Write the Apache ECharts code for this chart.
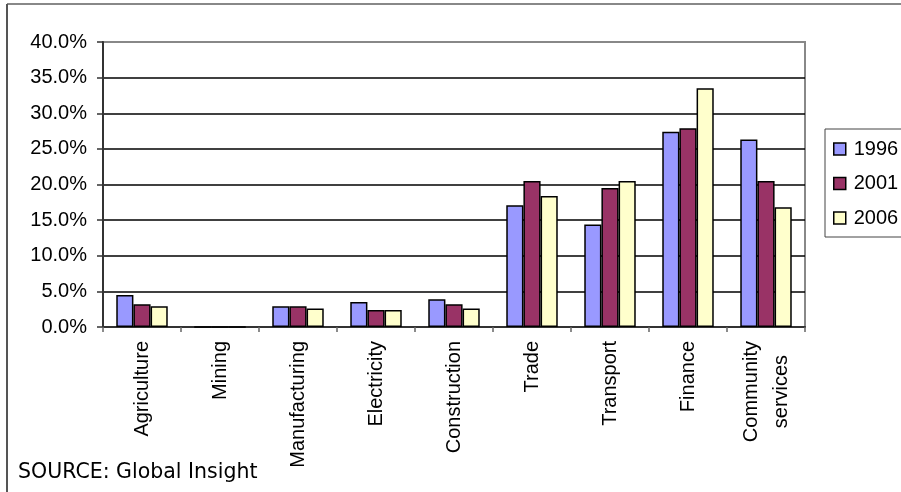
<!DOCTYPE html>
<html>
<head>
<meta charset="utf-8">
<script src="https://cdn.jsdelivr.net/npm/echarts@6/dist/echarts.min.js"></script>
<style>
  html, body { margin: 0; padding: 0; background: #fff; }
  #chart { width: 901px; height: 492px; }
</style>
</head>
<body>
<div id="chart"></div>
<script>
// Share of output by sector (%)
const sectors = ['Agriculture', 'Mining', 'Manufacturing', 'Electricity', 'Construction',
                 'Trade', 'Transport', 'Finance', 'Community\nservices'];
const years = ['1996', '2001', '2006'];
const share1996 = [4.5, 0.0, 2.9, 3.5, 3.9, 17.1, 14.4, 27.4, 26.3];
const share2001 = [3.2, 0.0, 2.9, 2.4, 3.2, 20.5, 19.5, 27.9, 20.5];
const share2006 = [2.9, 0.0, 2.6, 2.4, 2.6, 18.4, 20.5, 33.5, 16.8];
const yTicks = [0, 5, 10, 15, 20, 25, 30, 35, 40];
const sourceNote = 'SOURCE: Global Insight';

const colors = ['#9999FF', '#993366', '#FFFFCC'];
const seriesValues = [share1996, share2001, share2006];
const font = '"Liberation Sans", Arial, sans-serif';

const chart = echarts.init(document.getElementById('chart'), null, { renderer: 'canvas' });

// grid lines: black inside the plot, the top one merges with the grey frame
const splitColors = yTicks.map((t, i) => i === yTicks.length - 1 ? '#888888' : '#000000');

chart.setOption({
  animation: false,
  backgroundColor: '#ffffff',
  textStyle: { fontFamily: font },
  grid: {
    left: 103, right: 96, top: 42, bottom: 165,
    show: true, borderColor: '#888888', borderWidth: 2, backgroundColor: 'transparent'
  },
  legend: {
    orient: 'vertical',
    left: 825, top: 129,
    padding: [10, 24, 9, 8],
    itemGap: 14.5,
    itemWidth: 12, itemHeight: 12,
    icon: 'rect',
    borderColor: '#444444', borderWidth: 1,
    itemStyle: { borderColor: '#000000', borderWidth: 1.5 },
    textStyle: { fontSize: 20, color: '#000', fontFamily: font, padding: [0, 0, 0, 3] },
    data: years
  },
  xAxis: {
    type: 'category',
    data: sectors,
    axisLine: { lineStyle: { color: '#333333', width: 2 } },
    axisTick: { show: true, length: 5, lineStyle: { color: '#666666', width: 1.5 } },
    axisLabel: {
      rotate: 90,
      margin: 14,
      fontSize: 20,
      color: '#000',
      fontFamily: font,
      lineHeight: 30,
      interval: 0,
      formatter: v => v.split('\n').map(s => '{c|' + s + '}').join('\n'),
      rich: { c: { align: 'center', fontSize: 20, fontFamily: font, color: '#000', lineHeight: 30 } }
    },
    splitLine: { show: false }
  },
  yAxis: {
    type: 'value',
    min: yTicks[0], max: yTicks[yTicks.length - 1], interval: yTicks[1] - yTicks[0],
    axisLine: { show: true, lineStyle: { color: '#333333', width: 2 } },
    axisTick: { show: true, length: 6, lineStyle: { color: '#333333', width: 1.5 } },
    axisLabel: {
      margin: 16, fontSize: 20, color: '#000', fontFamily: font,
      formatter: v => v.toFixed(1) + '%'
    },
    splitLine: { show: true, lineStyle: { color: splitColors, width: 1.5 } }
  },
  series: years.map((y, i) => ({
    name: y,
    type: 'bar',
    data: seriesValues[i],
    barGap: '0%',
    barCategoryGap: '34%',
    itemStyle: { color: colors[i], borderColor: '#000000', borderWidth: 1.5 }
  })),
  graphic: [
    { type: 'line', shape: { x1: 7, y1: 4, x2: 901, y2: 4 }, style: { stroke: '#888888', lineWidth: 2 } },
    { type: 'line', shape: { x1: 7, y1: 4, x2: 7, y2: 492 }, style: { stroke: '#555555', lineWidth: 2 } },
    { type: 'text', left: 18, top: 462,
      style: { text: sourceNote, font: '20.5px "DejaVu Sans", Verdana, sans-serif', fill: '#000' } }
  ]
});
</script>
</body>
</html>
